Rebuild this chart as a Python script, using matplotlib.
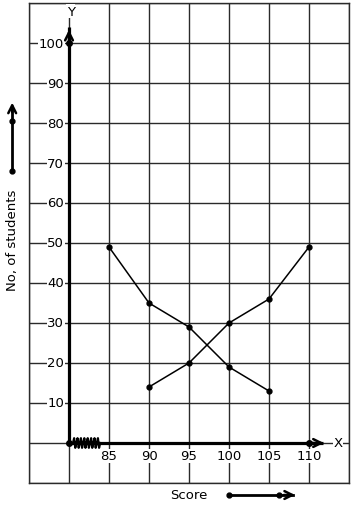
import numpy as np
import matplotlib
matplotlib.use('Agg')
import matplotlib.pyplot as plt

# data
score_a = [85, 90, 95, 100, 105]
students_a = [49, 35, 29, 19, 13]
score_b = [90, 95, 100, 105, 110]
students_b = [14, 20, 30, 36, 49]
x_ticks = [85, 90, 95, 100, 105, 110]
y_ticks = [10, 20, 30, 40, 50, 60, 70, 80, 90, 100]

W, H = 354, 510
fig = plt.figure(figsize=(W / 100, H / 100), dpi=100)
ax = fig.add_axes([29 / W, 1 - 484 / H, 320 / W, 480 / H])
ax.set_xlim(75, 115)
ax.set_ylim(-10, 110)

# graph paper grid
gc = '#2a2a2a'
for gx in range(75, 116, 5):
    ax.axvline(gx, color=gc, lw=1.0, zorder=1)
for gy in range(-10, 111, 10):
    ax.axhline(gy, color=gc, lw=1.0, zorder=1)
ax.set_xticks([])
ax.set_yticks([])
for s in ax.spines.values():
    s.set_color(gc)
    s.set_linewidth(1.0)

fs = 9.5
bb = dict(facecolor='white', edgecolor='none', pad=0.5)

# tick labels
for v in y_ticks:
    ax.text(79.4, v, str(v), ha='right', va='center', fontsize=fs, bbox=bb, zorder=3)
for v in x_ticks:
    ax.text(v, -3.2, str(v), ha='center', va='center', fontsize=fs, bbox=bb, zorder=3)

# axes
ax.plot([80, 80], [0, 104], color='black', lw=2.3, zorder=4, solid_capstyle='butt')
ax.plot([80, 111.8], [0, 0], color='black', lw=2.3, zorder=4, solid_capstyle='butt')
ax.annotate('', xy=(80, 104), xytext=(80, 100), zorder=5,
            arrowprops=dict(arrowstyle='->', lw=1.8, color='black', mutation_scale=14))
ax.annotate('', xy=(112.2, 0), xytext=(110, 0), zorder=5,
            arrowprops=dict(arrowstyle='->', lw=1.8, color='black', mutation_scale=14))
ax.text(80.2, 108, 'Y', ha='center', va='center', fontsize=fs, bbox=bb, zorder=3)
ax.text(113.6, 0, 'X', ha='center', va='center', fontsize=fs, bbox=bb, zorder=3)
ax.plot([80, 80, 110], [0, 100, 0], 'o', color='black', ms=4, zorder=6)

# break mark on x axis
zx = np.linspace(80.5, 83.9, 25)
zy = np.array([0, 1.2, -1.2] * 9)[:25]
ax.plot(zx, zy, color='black', lw=1.6, zorder=6)

# data lines
ax.plot(score_a, students_a, '-o', color='black', lw=1.1, ms=3.5, zorder=5)
ax.plot(score_b, students_b, '-o', color='black', lw=1.1, ms=3.5, zorder=5)

# axis titles with arrows (outside the grid)
ax.text(72.9, 50.8, 'No, of students', rotation=90, ha='center', va='center',
        fontsize=fs, clip_on=False)
ax.plot([72.9, 72.9], [68, 84], color='black', lw=2, clip_on=False)
ax.plot([72.9, 72.9], [68, 80.5], 'o', color='black', ms=3.5, clip_on=False)
ax.annotate('', xy=(72.9, 85.8), xytext=(72.9, 82), annotation_clip=False,
            arrowprops=dict(arrowstyle='->', lw=1.8, color='black', mutation_scale=14))

ax.text(95, -13, 'Score', ha='center', va='center', fontsize=fs, clip_on=False)
ax.plot([100, 108], [-13, -13], color='black', lw=2, clip_on=False)
ax.plot([100, 106.25], [-13, -13], 'o', color='black', ms=3.5, clip_on=False)
ax.annotate('', xy=(108.6, -13), xytext=(106.5, -13), annotation_clip=False,
            arrowprops=dict(arrowstyle='->', lw=1.8, color='black', mutation_scale=14))

fig.savefig('out.png', dpi=100)
